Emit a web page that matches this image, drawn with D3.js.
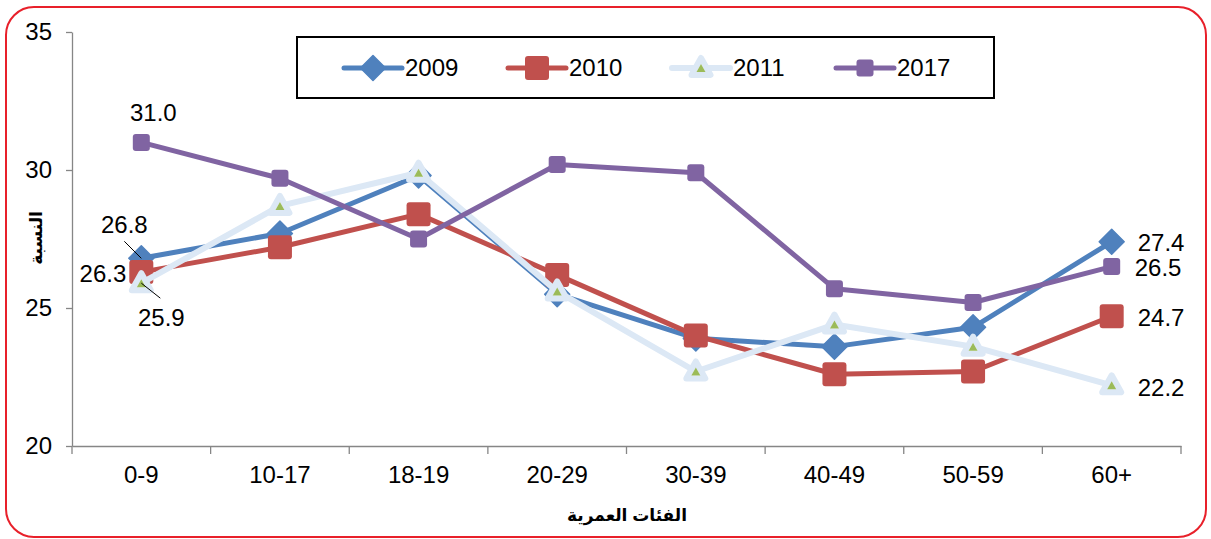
<!DOCTYPE html>
<html>
<head>
<meta charset="utf-8">
<script src="https://cdn.jsdelivr.net/npm/d3@7"></script>
<style>
  body { margin: 0; background: #fff; }
  text { font-family: Arial, "Liberation Sans", "DejaVu Sans", sans-serif; }
</style>
</head>
<body>
<div id="vis"></div>
<script>
const WIDTH = 1211;
const HEIGHT = 539;
const MARGINS = {left: 72, right: 30, top: 32, bottom: 93};

// data
const ageGroups = ["0-9", "10-17", "18-19", "20-29", "30-39", "40-49", "50-59", "60+"];
const years = ["2009", "2010", "2011", "2017"];
const values2009 = [26.8, 27.7, 29.8, 25.5, 23.9, 23.6, 24.3, 27.4];
const values2010 = [26.3, 27.2, 28.4, 26.2, 24.0, 22.6, 22.7, 24.7];
const values2011 = [25.9, 28.7, 29.9, 25.6, 22.7, 24.4, 23.6, 22.2];
const values2017 = [31.0, 29.7, 27.5, 30.2, 29.9, 25.7, 25.2, 26.5];
const yTicks = [20, 25, 30, 35];
const yTitle = "النسبة";
const xTitle = "الفئات العمرية";

const seriesStyle = {
  "2009": {color: "#4f81bd", width: 5, marker: "diamond"},
  "2010": {color: "#c0504d", width: 5, marker: "bigSquare"},
  "2011": {color: "#dce8f5", width: 6, marker: "triangle"},
  "2017": {color: "#8064a2", width: 5, marker: "smallSquare"}
};

const series = [
  {year: "2009", values: values2009},
  {year: "2010", values: values2010},
  {year: "2011", values: values2011},
  {year: "2017", values: values2017}
];

const VIS_WIDTH = 1181 - MARGINS.left;
const VIS_HEIGHT = 446 - MARGINS.top;

const FRAME = d3.select("#vis")
  .append("svg")
    .attr("width", WIDTH)
    .attr("height", HEIGHT);

// red rounded border
FRAME.append("rect")
  .attr("x", 6).attr("y", 7)
  .attr("width", 1200).attr("height", 530)
  .attr("rx", 28).attr("ry", 28)
  .attr("fill", "none")
  .attr("stroke", "#e8202a")
  .attr("stroke-width", 2);

const X_SCALE = d3.scaleBand()
  .domain(ageGroups)
  .range([MARGINS.left, MARGINS.left + VIS_WIDTH]);

const Y_SCALE = d3.scaleLinear()
  .domain([20, 35])
  .range([MARGINS.top + VIS_HEIGHT, MARGINS.top]);

const cx = (i) => X_SCALE(ageGroups[i]) + X_SCALE.bandwidth() / 2;

// y axis
const yAxis = FRAME.append("g")
  .attr("transform", `translate(${MARGINS.left},0)`)
  .call(d3.axisLeft(Y_SCALE).tickValues(yTicks).tickSize(6).tickSizeOuter(0).tickPadding(14));
yAxis.select(".domain").attr("stroke", "#868686").attr("stroke-width", 1.3);
yAxis.selectAll(".tick line").attr("stroke", "#868686").attr("stroke-width", 1.3);
yAxis.selectAll(".tick text").attr("font-size", 24).attr("fill", "#000")
  .attr("font-family", "Arial, 'Liberation Sans', sans-serif");

// x axis (labels), ticks sit on the band edges like in Excel
const xAxis = FRAME.append("g")
  .attr("transform", `translate(0,${MARGINS.top + VIS_HEIGHT})`)
  .call(d3.axisBottom(X_SCALE).tickSize(0).tickSizeOuter(0).tickPadding(20));
xAxis.select(".domain").attr("stroke", "#868686").attr("stroke-width", 1.3);
xAxis.selectAll(".tick text").attr("font-size", 24).attr("fill", "#000")
  .attr("font-family", "Arial, 'Liberation Sans', sans-serif");

const edges = ageGroups.map((d) => X_SCALE(d)).concat([X_SCALE.range()[1]]);
xAxis.selectAll(".edge")
  .data(edges)
  .enter()
  .append("line")
    .attr("x1", (d) => d).attr("x2", (d) => d)
    .attr("y1", 0).attr("y2", 8)
    .attr("stroke", "#868686").attr("stroke-width", 1.3);

// axis titles
FRAME.append("text")
  .attr("transform", "translate(42,238) rotate(-90)")
  .attr("text-anchor", "middle")
  .attr("font-size", 17).attr("font-weight", "bold")
  .attr("font-family", "Arial, 'DejaVu Sans', sans-serif")
  .text(yTitle);

FRAME.append("text")
  .attr("x", 627).attr("y", 521)
  .attr("text-anchor", "middle")
  .attr("font-size", 17).attr("font-weight", "bold")
  .attr("font-family", "Arial, 'DejaVu Sans', sans-serif")
  .text(xTitle);

// marker shapes
function drawMarker(g, kind, x, y, color) {
  if (kind === "diamond") {
    g.append("path")
      .attr("d", `M${x},${y - 12.5}L${x + 12.5},${y}L${x},${y + 12.5}L${x - 12.5},${y}Z`)
      .attr("fill", color).attr("stroke", color).attr("stroke-width", 1.5)
      .attr("stroke-linejoin", "round");
  } else if (kind === "bigSquare") {
    g.append("rect")
      .attr("x", x - 12).attr("y", y - 12)
      .attr("width", 24).attr("height", 24).attr("rx", 3)
      .attr("fill", color);
  } else if (kind === "smallSquare") {
    g.append("rect")
      .attr("x", x - 8.5).attr("y", y - 8.5)
      .attr("width", 17).attr("height", 17).attr("rx", 3)
      .attr("fill", color);
  } else if (kind === "triangle") {
    g.append("path")
      .attr("d", `M${x},${y - 10}L${x + 9.5},${y + 7}L${x - 9.5},${y + 7}Z`)
      .attr("fill", "#fff").attr("stroke", color).attr("stroke-width", 6)
      .attr("stroke-linejoin", "round");
    g.append("path")
      .attr("d", `M${x},${y - 4}L${x + 4.5},${y + 4}L${x - 4.5},${y + 4}Z`)
      .attr("fill", "#9bbb59");
  }
}

const line = d3.line()
  .x((d, i) => cx(i))
  .y((d) => Y_SCALE(d));

series.forEach((s) => {
  const st = seriesStyle[s.year];
  const g = FRAME.append("g").attr("class", "series");
  g.append("path")
    .datum(s.values)
    .attr("d", line)
    .attr("fill", "none")
    .attr("stroke", st.color)
    .attr("stroke-width", st.width)
    .attr("stroke-linejoin", "round");
  s.values.forEach((v, i) => drawMarker(g, st.marker, cx(i), Y_SCALE(v), st.color));
});

// data labels
const lastIdx = ageGroups.length - 1;
const labels = [
  {v: values2017[0], x: cx(0) + 12, y: Y_SCALE(values2017[0]) - 30, anchor: "middle"},
  {v: values2009[0], x: cx(0) - 17, y: Y_SCALE(values2009[0]) - 34, anchor: "middle"},
  {v: values2010[0], x: cx(0) - 15, y: Y_SCALE(values2010[0]) + 1, anchor: "end"},
  {v: values2011[0], x: cx(0) + 20, y: Y_SCALE(values2011[0]) + 34, anchor: "middle"},
  {v: values2009[lastIdx], x: cx(lastIdx) + 26, y: Y_SCALE(values2009[lastIdx]) + 1, anchor: "start"},
  {v: values2017[lastIdx], x: cx(lastIdx) + 23, y: Y_SCALE(values2017[lastIdx]) + 1, anchor: "start"},
  {v: values2010[lastIdx], x: cx(lastIdx) + 26, y: Y_SCALE(values2010[lastIdx]) + 1, anchor: "start"},
  {v: values2011[lastIdx], x: cx(lastIdx) + 26, y: Y_SCALE(values2011[lastIdx]) + 2, anchor: "start"}
];

FRAME.selectAll(".dlabel")
  .data(labels)
  .enter()
  .append("text")
    .attr("class", "dlabel")
    .attr("x", (d) => d.x)
    .attr("y", (d) => d.y)
    .attr("dy", "0.35em")
    .attr("text-anchor", (d) => d.anchor)
    .attr("font-size", 24)
    .attr("font-family", "Arial, 'Liberation Sans', sans-serif")
    .text((d) => d.v.toFixed(1));

// leader lines for the crowded first category
FRAME.append("line")
  .attr("x1", cx(0) - 17).attr("y1", Y_SCALE(values2009[0]) - 17)
  .attr("x2", cx(0)).attr("y2", Y_SCALE(values2009[0]))
  .attr("stroke", "#000").attr("stroke-width", 1);
FRAME.append("line")
  .attr("x1", cx(0)).attr("y1", Y_SCALE(values2011[0]))
  .attr("x2", cx(0) + 19).attr("y2", Y_SCALE(values2011[0]) + 15)
  .attr("stroke", "#000").attr("stroke-width", 1);

// legend
const legend = FRAME.append("g");
legend.append("rect")
  .attr("x", 297).attr("y", 37)
  .attr("width", 697).attr("height", 61)
  .attr("fill", "#fff")
  .attr("stroke", "#000").attr("stroke-width", 2);

const LEG_X = d3.scalePoint().domain(years).range([344, 836]);
years.forEach((yr) => {
  const st = seriesStyle[yr];
  const x0 = LEG_X(yr);
  const ly = 68;
  legend.append("line")
    .attr("x1", x0).attr("x2", x0 + 58)
    .attr("y1", ly).attr("y2", ly)
    .attr("stroke", st.color).attr("stroke-width", st.width)
    .attr("stroke-linecap", "round");
  drawMarker(legend, st.marker, x0 + 29, ly, st.color);
  legend.append("text")
    .attr("x", x0 + 61).attr("y", ly)
    .attr("dy", "0.35em")
    .attr("font-size", 24)
    .attr("font-family", "Arial, 'Liberation Sans', sans-serif")
    .text(yr);
});
</script>
</body>
</html>
